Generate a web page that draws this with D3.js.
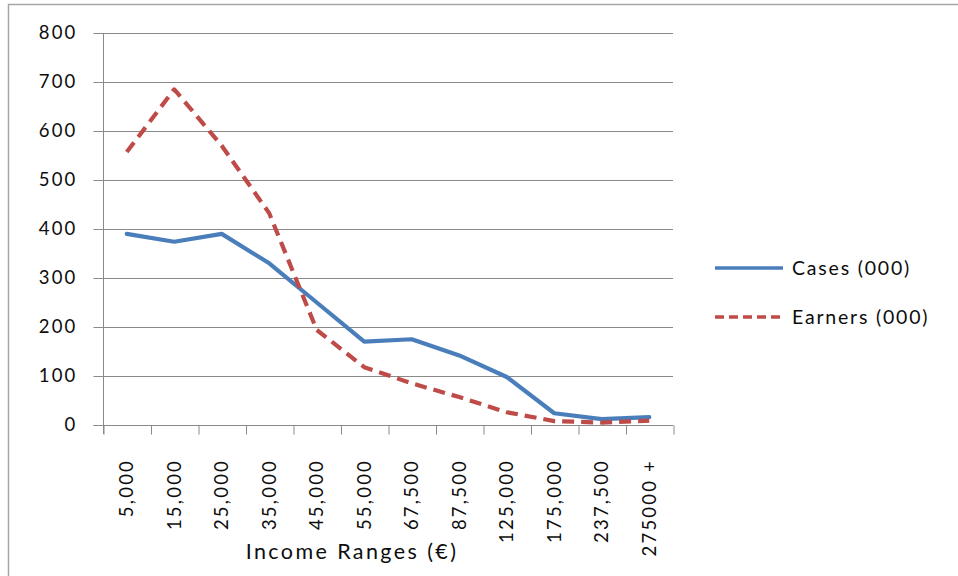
<!DOCTYPE html>
<html>
<head>
<meta charset="utf-8">
<script src="https://cdn.jsdelivr.net/npm/d3@7"></script>
<style>
  html, body { margin: 0; padding: 0; background: #fff; }
  svg { display: block; }
  text { font-family: Lato, "Open Sans", sans-serif; fill: #0d0d0d; }
</style>
</head>
<body>
<svg id="chart" width="958" height="576"></svg>
<script>
const categories = ["5,000","15,000","25,000","35,000","45,000","55,000","67,500","87,500","125,000","175,000","237,500","275000 +"];
const cases   = [390, 374, 390, 330, 250, 170, 175, 142, 98, 24, 12, 16];
const earners = [557, 685, 570, 432, 194, 118, 85, 57, 26, 8, 5, 9];
const yTicks  = [0, 100, 200, 300, 400, 500, 600, 700, 800];
const seriesNames = ["Cases (000)", "Earners (000)"];
const xTitle = "Income Ranges (\u20AC)";

const svg = d3.select("#chart");
const W = 958, H = 576;
const plot = { left: 103, right: 673, top: 33, bottom: 425 };
const gridColor = "#8a8a8a";
const blue = "#4a7ebb", red = "#be4b48";

// outer border
svg.append("rect")
  .attr("x", 8.5).attr("y", 4.5)
  .attr("width", W + 10).attr("height", H + 10)
  .attr("fill", "#fff").attr("stroke", "#a6a6a6").attr("stroke-width", 1.5);

const x = d3.scaleBand().domain(categories).range([plot.left, plot.right]).paddingInner(0).paddingOuter(0);
const xc = d => x(d) + x.bandwidth() / 2;
const y = d3.scaleLinear().domain([0, 800]).range([plot.bottom, plot.top]);

// gridlines + y axis
const yAxis = d3.axisLeft(y).tickValues(yTicks).tickSize(10).tickPadding(16);
const gy = svg.append("g").attr("transform", `translate(${plot.left + 0.5},0)`).call(yAxis);
gy.select(".domain").attr("stroke", gridColor).attr("d", `M0,${plot.top}V${plot.bottom + 9}`);
gy.selectAll(".tick line").attr("stroke", gridColor);
gy.selectAll(".tick text").attr("font-size", 18.5).attr("letter-spacing", "2.2px")
  .attr("font-family", "Lato, sans-serif").attr("fill", "#0d0d0d");

svg.append("g").selectAll("line").data(yTicks).join("line")
  .attr("x1", plot.left).attr("x2", plot.right)
  .attr("y1", d => Math.round(y(d)) + 0.5).attr("y2", d => Math.round(y(d)) + 0.5)
  .attr("stroke", gridColor).attr("stroke-width", 1.2);

// x axis with ticks between categories
const xl = d3.scaleLinear().domain([0, categories.length]).range([plot.left, plot.right]);
const xAxis = d3.axisBottom(xl).tickValues(d3.range(categories.length + 1)).tickSize(9).tickFormat("");
const gx = svg.append("g").attr("transform", `translate(0.5,${plot.bottom + 0.5})`).call(xAxis);
gx.select(".domain").attr("stroke", gridColor).attr("d", `M${plot.left - 10},0H${plot.right}`);
gx.selectAll(".tick line").attr("stroke", gridColor);

// x category labels, rotated
svg.append("g").selectAll("text").data(categories).join("text")
  .attr("transform", d => `translate(${xc(d)},459) rotate(-90)`)
  .attr("text-anchor", "end")
  .attr("dy", "0.35em")
  .attr("font-size", 18.5)
  .attr("letter-spacing", "2.2px")
  .text(d => d);

// axis title
svg.append("text")
  .attr("x", 352).attr("y", 559)
  .attr("text-anchor", "middle")
  .attr("font-size", 21.5)
  .attr("letter-spacing", "2.4px")
  .text(xTitle);

// lines
const line = d3.line().x((d, i) => xc(categories[i])).y(d => y(d));
svg.append("path").datum(cases)
  .attr("d", line).attr("fill", "none").attr("stroke", blue)
  .attr("stroke-width", 4.2).attr("stroke-linejoin", "round").attr("stroke-linecap", "round");
svg.append("path").datum(earners)
  .attr("d", line).attr("fill", "none").attr("stroke", red)
  .attr("stroke-width", 4.2).attr("stroke-dasharray", "12,7").attr("stroke-linejoin", "round");

// legend
const legend = svg.append("g");
const legendY = [268, 317];
const legendColors = [blue, red];
const legendDash = [null, "9,5"];
seriesNames.forEach((name, i) => {
  legend.append("line")
    .attr("x1", 715).attr("x2", 783).attr("y1", legendY[i]).attr("y2", legendY[i])
    .attr("stroke", legendColors[i]).attr("stroke-width", 3.5)
    .attr("stroke-dasharray", legendDash[i]);
  legend.append("text")
    .attr("x", 792).attr("y", legendY[i]).attr("dy", "0.35em")
    .attr("font-size", 19.5).attr("letter-spacing", "1.8px")
    .text(name);
});
</script>
</body>
</html>
